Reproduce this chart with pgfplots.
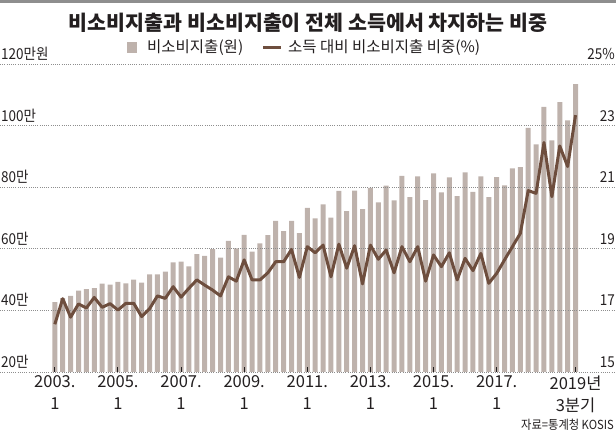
\documentclass[border=0pt]{standalone}
\usepackage{pgfplots}
\pgfplotsset{compat=1.18}
\usepackage{pgfplotstable}
\usepackage{fontspec}
\setmainfont{Noto Sans CJK KR}
\newfontfamily\condfont[FakeStretch=0.9]{Noto Sans CJK KR}
\definecolor{barc}{HTML}{BEB2AC}
\definecolor{linec}{HTML}{6E4E3E}
\definecolor{txt}{HTML}{231F20}
\definecolor{gridc}{HTML}{8E8E8E}

\pgfplotstableread{
i v p
0 42.7 16.55
1 44.0 17.38
2 44.7 16.78
3 46.4 17.21
4 46.9 17.08
5 47.2 17.42
6 48.7 17.10
7 48.4 17.22
8 49.3 17.01
9 48.8 17.23
10 50.0 17.23
11 49.0 16.80
12 51.7 17.05
13 51.7 17.47
14 52.6 17.39
15 55.6 17.77
16 55.8 17.43
17 54.3 17.72
18 58.3 17.99
19 57.7 17.82
20 59.9 17.66
21 57.1 17.47
22 62.6 18.09
23 60.1 17.95
24 64.5 18.64
25 59.1 17.99
26 61.8 17.99
27 64.4 18.22
28 69.1 18.58
29 65.7 18.58
30 69.1 18.98
31 65.1 18.07
32 73.3 19.07
33 69.9 18.87
34 74.4 19.12
35 70.1 18.09
36 78.8 19.15
37 72.2 18.37
38 78.9 19.10
39 72.9 17.86
40 79.8 19.12
41 75.1 18.66
42 80.5 18.96
43 75.7 18.22
44 83.7 19.07
45 76.8 18.58
46 83.5 19.07
47 75.8 17.95
48 84.5 18.80
49 78.3 18.42
50 83.2 18.87
51 77.1 17.99
52 84.8 18.69
53 78.5 18.29
54 83.5 18.85
55 76.8 17.88
56 83.3 18.20
57 80.6 18.64
58 86.1 19.07
59 86.5 19.50
60 99.3 20.89
61 93.9 20.80
62 106.1 22.45
63 95.2 20.69
64 107.6 22.34
65 101.7 21.67
66 113.5 23.34
}\data

\begin{document}
\begin{tikzpicture}[x=1pt,y=1pt]
\path[use as bounding box] (0,0) rectangle (616,433);
\fill[gridc] (0,430) rectangle (616,433);
\begin{axis}[
  at={(0pt,61pt)}, anchor=south west, scale only axis,
  width=616pt, height=308pt,
  xmin=-6.95, xmax=71.13, ymin=20, ymax=120,
  axis line style={draw=none},
  axis on top,
  ymajorgrids,
  grid style={gridc, line width=0.9pt, dash pattern=on 0.9pt off 1.3pt},
  ytick={20,40,...,120}, yticklabels={}, ytick style={draw=none},
  xtick={0,8,16,24,32,40,48,56,66},
  xticklabels={{2003.\\1},{2005.\\1},{2007.\\1},{2009.\\1},{2011.\\1},{2013.\\1},{2015.\\1},{2017.\\1},{2019년\\3분기}},
  xtick pos=bottom, tick align=inside, major tick length=5pt,
  xtick style={txt, line width=1pt},
  x tick label style={font=\fontsize{16.5}{22}\selectfont, text=txt, align=center, inner sep=0pt, yshift=-3.5pt},
]
\addplot[ybar, bar width=5pt, bar shift=0pt, fill=barc, draw=none] table[x=i,y=v]{\data};
\end{axis}
\begin{axis}[
  at={(0pt,61pt)}, anchor=south west, scale only axis,
  width=616pt, height=308pt,
  xmin=-6.95, xmax=71.13, ymin=15, ymax=25,
  hide axis,
]
\addplot[linec, line width=3pt, line join=round, mark=none] table[x=i,y=p]{\data};
\end{axis}
% y labels
\foreach \yy/\lab in {61/20만,122.6/40만,184.2/60만,245.8/80만,307.4/100만,369/120만원}{
  \node[anchor=base west, inner sep=0pt, text=txt, font=\condfont\fontsize{15}{18}\selectfont] at (1,\yy+4.5) {\lab};
}
\foreach \yy/\lab in {61/15,122.6/17,184.2/19,245.8/21,307.4/23,369/25\%}{
  \node[anchor=base east, inner sep=0pt, text=txt, font=\condfont\fontsize{15}{18}\selectfont] at (615,\yy+4.5) {\lab};
}
% title
\node[text=txt, font=\bfseries\fontsize{20.6}{25}\selectfont] at (308,410) {비소비지출과 비소비지출이 전체 소득에서 차지하는 비중};
% legend
\fill[barc] (127,380) rectangle (137,391);
\node[anchor=base west, inner sep=0pt, text=txt, font=\fontsize{15.5}{18}\selectfont] at (147,380) {비소비지출(원)};
\draw[linec, line width=3pt] (263,385.5) -- (281,385.5);
\node[anchor=base west, inner sep=0pt, text=txt, font=\fontsize{15.5}{18}\selectfont] at (288,380) {소득 대비 비소비지출 비중(\%)};
% source
\node[anchor=base east, inner sep=0pt, text=txt, font=\condfont\fontsize{12.5}{15}\selectfont] at (614,3.5) {자료=통계청 KOSIS};
\end{tikzpicture}
\end{document}
